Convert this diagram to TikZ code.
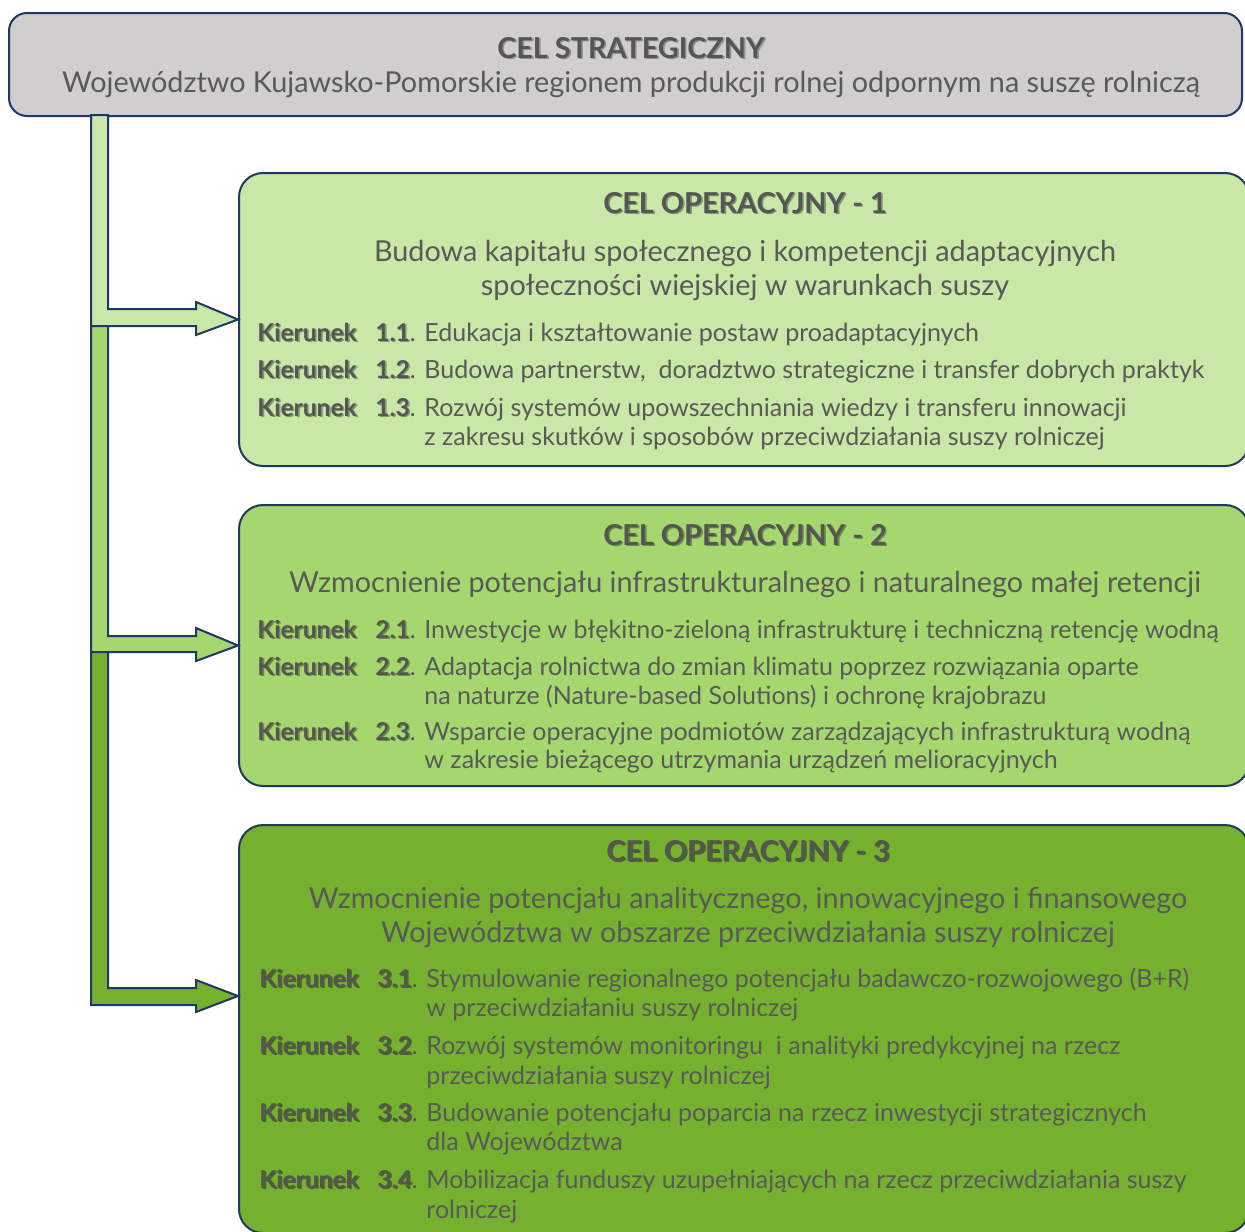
\documentclass[tikz,border=0pt]{standalone}
\usepackage{fontspec}
\setmainfont{Lato}
\usepackage{tikz}
\usetikzlibrary{positioning,calc}

\definecolor{navy}{HTML}{1F3864}
\definecolor{stratgray}{HTML}{D0CECE}
\definecolor{gLight}{HTML}{C9E7A7}
\definecolor{gMid}{HTML}{A6D76E}
\definecolor{gDark}{HTML}{76B02F}
\definecolor{txtgray}{HTML}{595959}
\definecolor{headgray}{HTML}{555555}
\colorlet{shade}{stratgray!70!black}
\newcommand{\shadowed}[1]{\rlap{\textcolor{shade}{\kern0.8pt\raisebox{-0.8pt}{#1}}}#1}

\begin{document}
\begin{tikzpicture}[x=0.5pt, y=-0.5pt, text=txtgray]
\tikzset{
  base/.style={draw=navy, line width=1pt, rounded corners=12pt, inner sep=0pt, anchor=north west},
  stratbox/.style={base, fill=stratgray, rounded corners=9pt},
  opbox/.style={base},
  head/.style={anchor=base, inner sep=0pt, text=headgray, font=\fontsize{14.4pt}{17pt}\selectfont\bfseries},
  sub/.style={anchor=base, inner sep=0pt, font=\fontsize{14.4pt}{17pt}\selectfont},
  kier/.style={anchor=base west, inner sep=0pt, text=headgray, font=\fontsize{12.3pt}{14pt}\selectfont\bfseries},
  item/.style={anchor=base west, inner sep=0pt, font=\fontsize{12.5pt}{14pt}\selectfont},
  flow/.style={draw=navy, line width=1pt, line join=miter},
}
\useasboundingbox (0,0) rectangle (1245,1231);

% Boxes
\node (strat) [stratbox, minimum width=616.5pt, minimum height=51.5pt] at (8,12) {};
\node (co1) [opbox, fill=gLight, minimum width=505pt, minimum height=146.5pt] at (238,172) {};
\node (co2) [opbox, fill=gMid, minimum width=505pt, minimum height=140.5pt] at (238,504) {};
\node (co3) [opbox, fill=gDark, minimum width=505pt, minimum height=204pt] at (238,824) {};

% Block arrows
\draw[flow, fill=gLight] (91,115) -- (108,115) -- (108,309) -- (196,309) -- (196,302) -- (co1.west) -- (196,335) -- (196,326) -- (91,326) -- cycle;
\draw[flow, fill=gMid] (91,326) -- (108,326) -- (108,636) -- (196,636) -- (196,628) -- (co2.west) -- (196,661) -- (196,652) -- (91,652) -- cycle;
\draw[flow, fill=gDark] (91,652) -- (108,652) -- (108,988) -- (196,988) -- (196,980) -- ($(co3.north west)+(0,172)$) -- (196,1012) -- (196,1005) -- (91,1005) -- cycle;

% Strategic goal
\node (stratT) [head] at (631,58) {\shadowed{CEL STRATEGICZNY}};
\node (stratS) [sub] at (631,92) {Województwo Kujawsko-Pomorskie regionem produkcji rolnej odpornym na suszę rolniczą};

% Operational goal 1
\colorlet{shade}{gLight!65!black}
\node (co1T) [head] at (745,213) {\shadowed{CEL OPERACYJNY - 1}};
\node (co1Sa) [sub] at (745,261) {Budowa kapitału społecznego i kompetencji adaptacyjnych};
\node (co1Sb) [sub] at (745,295) {społeczności wiejskiej w warunkach suszy};
\node (k11) [kier] at (257,341) {\shadowed{Kierunek}};
\node (n11) [kier] at (375,341) {\shadowed{1.1}\mdseries.};
\node (t11) [item] at (424,341) {Edukacja i kształtowanie postaw proadaptacyjnych};
\node (k12) [kier] at (257,378) {\shadowed{Kierunek}};
\node (n12) [kier] at (375,378) {\shadowed{1.2}\mdseries.};
\node (t12) [item] at (424,378) {Budowa partnerstw, \ doradztwo strategiczne i transfer dobrych praktyk};
\node (k13) [kier] at (257,416) {\shadowed{Kierunek}};
\node (n13) [kier] at (375,416) {\shadowed{1.3}\mdseries.};
\node (t13a) [item] at (424,416) {Rozwój systemów upowszechniania wiedzy i transferu innowacji};
\node (t13b) [item] at (424,445) {z zakresu skutków i sposobów przeciwdziałania suszy rolniczej};

% Operational goal 2
\colorlet{shade}{gMid!65!black}
\node (co2T) [head] at (745,545) {\shadowed{CEL OPERACYJNY - 2}};
\node (co2S) [sub] at (745,592) {Wzmocnienie potencjału infrastrukturalnego i naturalnego małej retencji};
\node (k21) [kier] at (257,638) {\shadowed{Kierunek}};
\node (n21) [kier] at (375,638) {\shadowed{2.1}\mdseries.};
\node (t21) [item] at (424,638) {Inwestycje w błękitno-zieloną infrastrukturę i techniczną retencję wodną};
\node (k22) [kier] at (257,675) {\shadowed{Kierunek}};
\node (n22) [kier] at (375,675) {\shadowed{2.2}\mdseries.};
\node (t22a) [item] at (424,675) {Adaptacja rolnictwa do zmian klimatu poprzez rozwiązania oparte};
\node (t22b) [item] at (424,704) {na naturze (Nature-based Solutions) i ochronę krajobrazu};
\node (k23) [kier] at (257,740) {\shadowed{Kierunek}};
\node (n23) [kier] at (375,740) {\shadowed{2.3}\mdseries.};
\node (t23a) [item] at (424,740) {Wsparcie operacyjne podmiotów zarządzających infrastrukturą wodną};
\node (t23b) [item] at (424,768) {w zakresie bieżącego utrzymania urządzeń melioracyjnych};

% Operational goal 3
\colorlet{shade}{gDark!60!black}
\node (co3T) [head] at (748,861) {\shadowed{CEL OPERACYJNY - 3}};
\node (co3Sa) [sub] at (748,908) {Wzmocnienie potencjału analitycznego, innowacyjnego i finansowego};
\node (co3Sb) [sub] at (748,942) {Województwa w obszarze przeciwdziałania suszy rolniczej};
\node (k31) [kier] at (259,987) {\shadowed{Kierunek}};
\node (n31) [kier] at (377,987) {\shadowed{3.1}\mdseries.};
\node (t31a) [item] at (426,987) {Stymulowanie regionalnego potencjału badawczo-rozwojowego (B+R)};
\node (t31b) [item] at (426,1016) {w przeciwdziałaniu suszy rolniczej};
\node (k32) [kier] at (259,1054) {\shadowed{Kierunek}};
\node (n32) [kier] at (377,1054) {\shadowed{3.2}\mdseries.};
\node (t32a) [item] at (426,1054) {Rozwój systemów monitoringu \ i analityki predykcyjnej na rzecz};
\node (t32b) [item] at (426,1084) {przeciwdziałania suszy rolniczej};
\node (k33) [kier] at (259,1121) {\shadowed{Kierunek}};
\node (n33) [kier] at (377,1121) {\shadowed{3.3}\mdseries.};
\node (t33a) [item] at (426,1121) {Budowanie potencjału poparcia na rzecz inwestycji strategicznych};
\node (t33b) [item] at (426,1150) {dla Województwa};
\node (k34) [kier] at (259,1188) {\shadowed{Kierunek}};
\node (n34) [kier] at (377,1188) {\shadowed{3.4}\mdseries.};
\node (t34a) [item] at (426,1188) {Mobilizacja funduszy uzupełniających na rzecz przeciwdziałania suszy};
\node (t34b) [item] at (426,1218) {rolniczej};

\end{tikzpicture}
\end{document}
